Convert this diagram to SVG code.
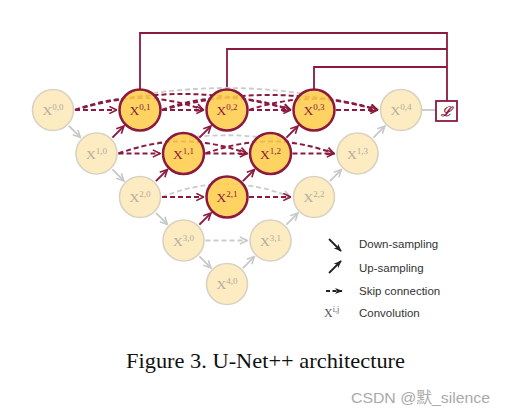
<svg xmlns="http://www.w3.org/2000/svg" width="507" height="419" viewBox="0 0 507 419">
<style>
.nd-off{fill:#fdebc1;stroke:#d9d2c2;stroke-width:1.6}
.nd-on{fill:#fecd4c;fill-opacity:0.88;stroke:#8b1a3e;stroke-width:2.5}
.t-off{font-family:"Liberation Serif",serif;font-size:13.5px;fill:#b3ab9e;text-anchor:middle}
.t-on{font-family:"Liberation Serif",serif;font-size:13.5px;fill:#8b1a3e;text-anchor:middle}
.sup{font-size:9px}
.gr{stroke:#c8c8c8;stroke-width:1.8;fill:none}
.mr{stroke:#8b1a3e;stroke-width:2;fill:none}
.dg{stroke:#cbcbcb;stroke-width:1.8;fill:none;stroke-dasharray:5,3}
.dm{stroke:#8b1a3e;stroke-width:2;fill:none;stroke-dasharray:5,3}
.bus{stroke:#8b1a3e;stroke-width:1.8;fill:none}
.lg{font-family:"Liberation Sans",Arial,sans-serif;font-size:11.5px;fill:#333}
</style>
<defs>
<marker id="ag" viewBox="0 0 10 10" refX="9" refY="5" markerWidth="9" markerHeight="9" markerUnits="userSpaceOnUse" orient="auto"><path d="M1,1 L9,5 L1,9" fill="none" stroke="#c8c8c8" stroke-width="1.8"/></marker>
<marker id="am" viewBox="0 0 10 10" refX="9" refY="5" markerWidth="9" markerHeight="9" markerUnits="userSpaceOnUse" orient="auto"><path d="M1,1 L9,5 L1,9" fill="none" stroke="#8b1a3e" stroke-width="1.8"/></marker>
<marker id="ab" viewBox="0 0 10 10" refX="9" refY="5" markerWidth="8" markerHeight="8" markerUnits="userSpaceOnUse" orient="auto"><path d="M0,1 L10,5 L0,9 L3,5 Z" fill="#222"/></marker>
</defs>
<rect width="507" height="419" fill="#fff"/>

<g id="connectors">
<path class="bus" d="M140,89.5 V33 H447 V101"/>
<path class="bus" d="M227,89.5 V49 H447"/>
<path class="bus" d="M314,89.5 V67 H447"/>
<line class="gr" x1="421.5" y1="110" x2="436" y2="110"/>
<path class="dg" marker-end="url(#ag)" d="M75,110 Q226,66 377.5,110"/>
<path class="dg" marker-end="url(#ag)" d="M118.5,153.5 Q226,117 334,153.5"/>
<path class="dg" marker-end="url(#ag)" d="M162,197 Q226,171 290.5,197"/>
<line class="dg" marker-end="url(#ag)" x1="205.5" y1="240.5" x2="247" y2="240.5"/>
<line class="dm" marker-end="url(#am)" x1="75" y1="110" x2="116.5" y2="110"/>
<path class="dm" marker-end="url(#am)" d="M75,110 Q139,86 203.5,110"/>
<path class="dm" marker-end="url(#am)" d="M75,110 Q183,78 290.5,110"/>
<line class="dm" marker-end="url(#am)" x1="162" y1="110" x2="203.5" y2="110"/>
<path class="dm" marker-end="url(#am)" d="M162,110 Q226,86 290.5,110"/>
<path class="dm" marker-end="url(#am)" d="M162,110 Q270,80 377.5,110"/>
<line class="dm" marker-end="url(#am)" x1="249" y1="110" x2="290.5" y2="110"/>
<path class="dm" marker-end="url(#am)" d="M249,110 Q313,88 377.5,110"/>
<line class="dm" marker-end="url(#am)" x1="336" y1="110" x2="377.5" y2="110"/>
<line class="dm" marker-end="url(#am)" x1="118.5" y1="153.5" x2="160" y2="153.5"/>
<path class="dm" marker-end="url(#am)" d="M118.5,153.5 Q183,129.5 247,153.5"/>
<line class="dm" marker-end="url(#am)" x1="205.5" y1="153.5" x2="247" y2="153.5"/>
<path class="dm" marker-end="url(#am)" d="M205.5,153.5 Q270,129.5 334,153.5"/>
<line class="dm" marker-end="url(#am)" x1="292.5" y1="153.5" x2="334" y2="153.5"/>
<line class="dm" marker-end="url(#am)" x1="162" y1="197" x2="203.5" y2="197"/>
<line class="dm" marker-end="url(#am)" x1="249" y1="197" x2="290.5" y2="197"/>
<line class="gr" marker-end="url(#ag)" x1="68.9" y1="125.9" x2="80.4" y2="137.4"/>
<line class="gr" marker-end="url(#ag)" x1="112.4" y1="169.4" x2="123.9" y2="180.9"/>
<line class="gr" marker-end="url(#ag)" x1="155.9" y1="212.9" x2="167.4" y2="224.4"/>
<line class="gr" marker-end="url(#ag)" x1="199.4" y1="256.4" x2="210.9" y2="267.9"/>
<line class="gr" marker-end="url(#ag)" x1="242.9" y1="268.1" x2="254.4" y2="256.6"/>
<line class="gr" marker-end="url(#ag)" x1="286.4" y1="224.6" x2="297.9" y2="213.1"/>
<line class="gr" marker-end="url(#ag)" x1="329.9" y1="181.1" x2="341.4" y2="169.6"/>
<line class="gr" marker-end="url(#ag)" x1="373.4" y1="137.6" x2="384.9" y2="126.1"/>
<line class="mr" marker-end="url(#am)" x1="112.4" y1="137.6" x2="123.9" y2="126.1"/>
<line class="mr" marker-end="url(#am)" x1="199.4" y1="137.6" x2="210.9" y2="126.1"/>
<line class="mr" marker-end="url(#am)" x1="286.4" y1="137.6" x2="297.9" y2="126.1"/>
<line class="mr" marker-end="url(#am)" x1="155.9" y1="181.1" x2="167.4" y2="169.6"/>
<line class="mr" marker-end="url(#am)" x1="242.9" y1="181.1" x2="254.4" y2="169.6"/>
<line class="mr" marker-end="url(#am)" x1="199.4" y1="224.6" x2="210.9" y2="213.1"/>
</g>

<g id="X00"><circle class="nd-off" cx="53" cy="110" r="20.5"/><text class="t-off" x="53" y="115">X<tspan class="sup" dy="-5">0,0</tspan></text></g>
<g id="X01"><circle class="nd-on" cx="140" cy="110" r="20.5"/><text class="t-on" x="140" y="115">X<tspan class="sup" dy="-5">0,1</tspan></text></g>
<g id="X02"><circle class="nd-on" cx="227" cy="110" r="20.5"/><text class="t-on" x="227" y="115">X<tspan class="sup" dy="-5">0,2</tspan></text></g>
<g id="X03"><circle class="nd-on" cx="314" cy="110" r="20.5"/><text class="t-on" x="314" y="115">X<tspan class="sup" dy="-5">0,3</tspan></text></g>
<g id="X04"><circle class="nd-off" cx="401" cy="110" r="20.5"/><text class="t-off" x="401" y="115">X<tspan class="sup" dy="-5">0,4</tspan></text></g>
<g id="X10"><circle class="nd-off" cx="96.5" cy="153.5" r="20.5"/><text class="t-off" x="96.5" y="158.5">X<tspan class="sup" dy="-5">1,0</tspan></text></g>
<g id="X11"><circle class="nd-on" cx="183.5" cy="153.5" r="20.5"/><text class="t-on" x="183.5" y="158.5">X<tspan class="sup" dy="-5">1,1</tspan></text></g>
<g id="X12"><circle class="nd-on" cx="270.5" cy="153.5" r="20.5"/><text class="t-on" x="270.5" y="158.5">X<tspan class="sup" dy="-5">1,2</tspan></text></g>
<g id="X13"><circle class="nd-off" cx="357.5" cy="153.5" r="20.5"/><text class="t-off" x="357.5" y="158.5">X<tspan class="sup" dy="-5">1,3</tspan></text></g>
<g id="X20"><circle class="nd-off" cx="140" cy="197" r="20.5"/><text class="t-off" x="140" y="202">X<tspan class="sup" dy="-5">2,0</tspan></text></g>
<g id="X21"><circle class="nd-on" cx="227" cy="197" r="20.5"/><text class="t-on" x="227" y="202">X<tspan class="sup" dy="-5">2,1</tspan></text></g>
<g id="X22"><circle class="nd-off" cx="314" cy="197" r="20.5"/><text class="t-off" x="314" y="202">X<tspan class="sup" dy="-5">2,2</tspan></text></g>
<g id="X30"><circle class="nd-off" cx="183.5" cy="240.5" r="20.5"/><text class="t-off" x="183.5" y="245.5">X<tspan class="sup" dy="-5">3,0</tspan></text></g>
<g id="X31"><circle class="nd-off" cx="270.5" cy="240.5" r="20.5"/><text class="t-off" x="270.5" y="245.5">X<tspan class="sup" dy="-5">3,1</tspan></text></g>
<g id="X40"><circle class="nd-off" cx="227" cy="284" r="20.5"/><text class="t-off" x="227" y="289">X<tspan class="sup" dy="-5">4,0</tspan></text></g>
<g id="loss"><rect x="436" y="101" width="21" height="20" fill="#fff" stroke="#8b1a3e" stroke-width="1.8"/><text x="446.5" y="116" font-family="'DejaVu Serif',serif" font-size="13" font-style="italic" font-weight="bold" fill="#8b1a3e" text-anchor="middle">ℒ</text></g>

<g id="legend">
<line x1="329" y1="239" x2="341" y2="251" stroke="#222" stroke-width="1.8" marker-end="url(#ab)"/>
<line x1="329" y1="273" x2="341" y2="261" stroke="#222" stroke-width="1.8" marker-end="url(#ab)"/>
<line x1="326" y1="291" x2="342" y2="291" stroke="#222" stroke-width="1.8" stroke-dasharray="4,2.5" marker-end="url(#ab)"/>
<text x="324" y="317" font-family="'Liberation Serif',serif" font-size="12" fill="#555">X<tspan font-size="8" dy="-5">i,j</tspan></text>
<text class="lg" x="359" y="248">Down-sampling</text>
<text class="lg" x="359" y="271.5">Up-sampling</text>
<text class="lg" x="359" y="294.5">Skip connection</text>
<text class="lg" x="359" y="317">Convolution</text>
</g>

<text x="126" y="368" font-family="'Liberation Serif','Times New Roman',serif" font-size="21" fill="#111" textLength="279" lengthAdjust="spacingAndGlyphs">Figure 3. U-Net++ architecture</text>
<text x="351" y="403" font-family="'Liberation Sans','Noto Sans CJK SC',sans-serif" font-size="15.5" fill="#aaa" textLength="139" lengthAdjust="spacingAndGlyphs">CSDN @默_silence</text>
</svg>
